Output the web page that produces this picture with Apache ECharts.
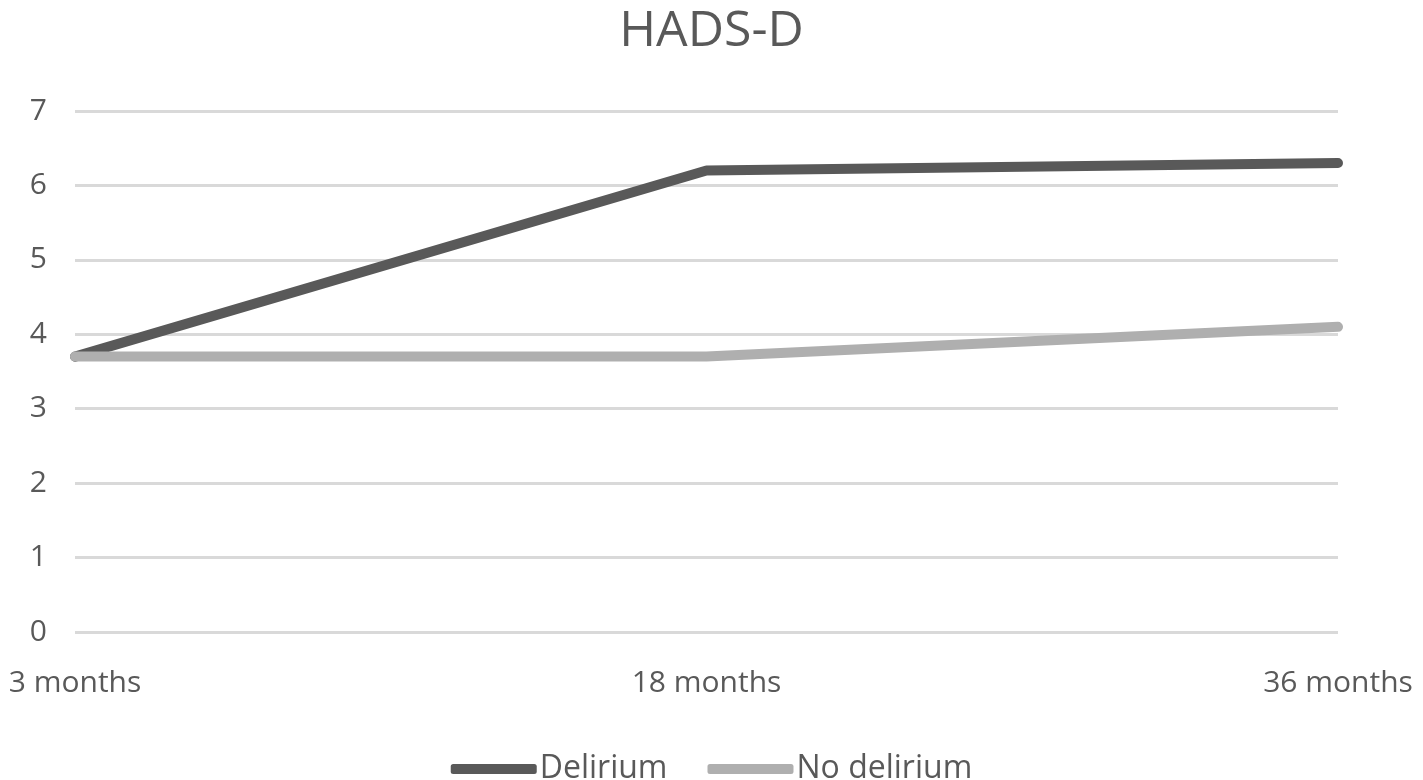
<!DOCTYPE html>
<html><head><meta charset="utf-8">
<script src="https://cdn.jsdelivr.net/npm/echarts@6/dist/echarts.min.js"></script>
<style>html,body{margin:0;padding:0;background:#fff}#c{width:1423px;height:780px}</style>
</head><body><div id="c"></div>
<script>
const categories = ['3 months', '18 months', '36 months'];
const delirium = [3.7, 6.2, 6.3];
const noDelirium = [3.7, 3.7, 4.1];
const seriesNames = ['Delirium', 'No delirium'];
const yTicks = {min: 0, max: 7, interval: 1};

const chart = echarts.init(document.getElementById('c'));
const font = '"Open Sans", sans-serif';
chart.setOption({
  animation: false,
  title: {text: 'HADS-D', left: 'center', top: 2,
    textStyle: {fontFamily: font, fontSize: 50, fontWeight: 'normal', color: '#595959'}},
  legend: {bottom: -10, left: 'center', itemWidth: 86, itemHeight: 10, itemGap: 40,
    icon: 'roundRect',
    textStyle: {fontFamily: font, fontSize: 32, color: '#595959', padding: [0,0,0,-2]},
    data: seriesNames},
  grid: {left: 75, right: 85, top: 111, bottom: 148, containLabel: false},
  xAxis: {type: 'category', data: categories, boundaryGap: false,
    axisLine: {show: false}, axisTick: {show: false},
    axisLabel: {fontFamily: font, fontSize: 30, color: '#595959', margin: 36}},
  yAxis: {type: 'value', min: yTicks.min, max: yTicks.max, interval: yTicks.interval,
    axisLine: {show: false}, axisTick: {show: false},
    axisLabel: {fontFamily: font, fontSize: 30, color: '#595959', margin: 28},
    splitLine: {lineStyle: {color: '#d9d9d9', width: 3}}},
  series: [
    {name: seriesNames[0], type: 'line', data: delirium, symbol: 'none', z: 3,
     lineStyle: {color: '#595959', width: 10, cap: 'round', join: 'round'},
     itemStyle: {color: '#595959'}},
    {name: seriesNames[1], type: 'line', data: noDelirium, symbol: 'none', z: 4,
     lineStyle: {color: '#afafaf', width: 10, cap: 'round', join: 'round'},
     itemStyle: {color: '#afafaf'}}
  ]
});
</script></body></html>
